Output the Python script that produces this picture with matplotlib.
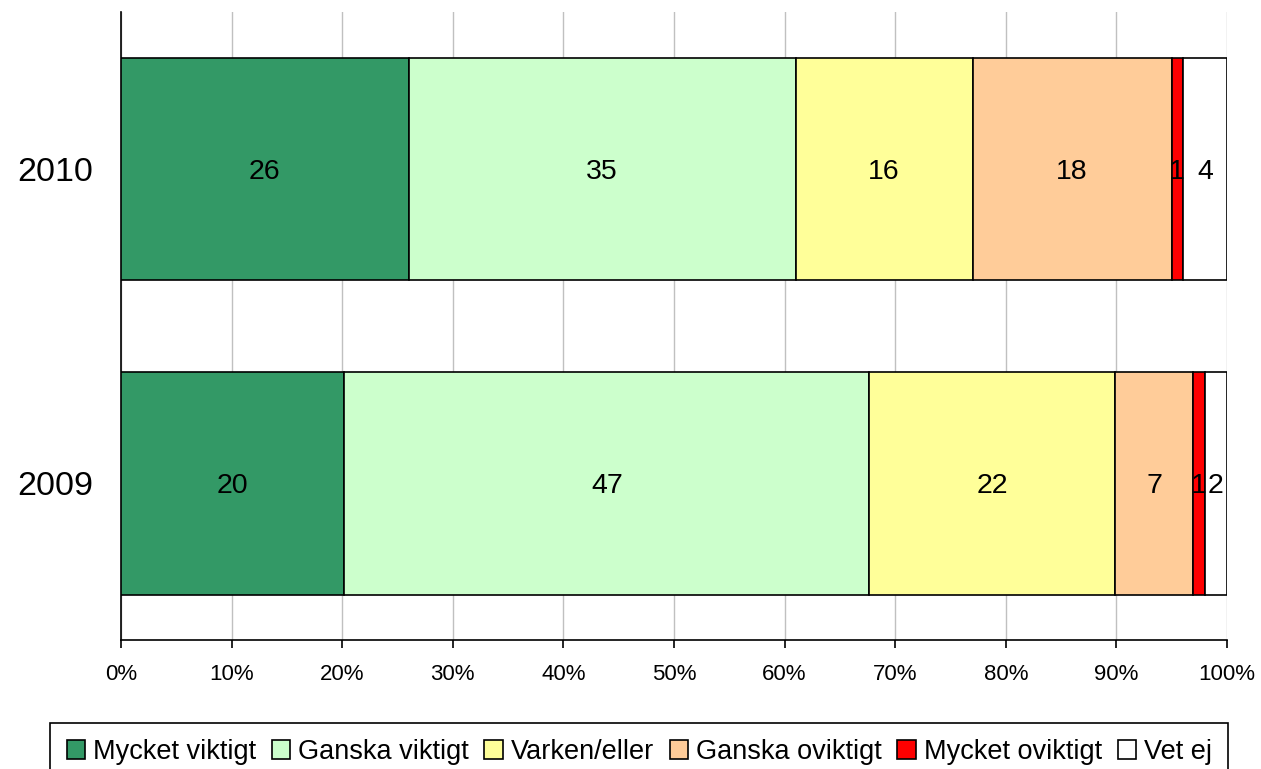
import matplotlib
matplotlib.use("Agg")
import matplotlib.pyplot as plt
import numpy as np
from matplotlib import font_manager

years = ["2009", "2010"]
categories = ["Mycket viktigt", "Ganska viktigt", "Varken/eller",
              "Ganska oviktigt", "Mycket oviktigt", "Vet ej"]
values_2009 = [20, 47, 22, 7, 1, 2]
values_2010 = [26, 35, 16, 18, 1, 4]
colors = ["#339966", "#CCFFCC", "#FFFF99", "#FFCC99", "#FF0000", "#FFFFFF"]
xtick_labels = ["0%", "10%", "20%", "30%", "40%", "50%",
                "60%", "70%", "80%", "90%", "100%"]

names = {f.name for f in font_manager.fontManager.ttflist}
base_font = "Liberation Sans" if "Liberation Sans" in names else "DejaVu Sans"
plt.rcParams["font.family"] = [base_font, "DejaVu Sans"]

fig = plt.figure(figsize=(12.61, 7.69), dpi=100)
ax = fig.add_axes([0.0960, 0.1677, 0.8770, 0.8167])

data = np.array([values_2009, values_2010], dtype=float)
pct = data / data.sum(axis=1, keepdims=True) * 100
ypos = np.arange(len(years))
left = np.zeros(len(years))
for j, cat in enumerate(categories):
    ax.barh(ypos, pct[:, j], left=left, height=0.71, color=colors[j],
            edgecolor="black", linewidth=1.2, label=cat, zorder=3)
    for i in range(len(years)):
        ax.text(left[i] + pct[i, j] / 2, ypos[i], str(int(data[i, j])),
                ha="center", va="center_baseline", fontsize=20.5, zorder=4)
    left += pct[:, j]

ax.set_xlim(0, 100)
ax.set_ylim(-0.5, 1.5)
ax.set_xticks(np.arange(0, 101, 10))
ax.set_xticklabels(xtick_labels, fontsize=16)
ax.set_yticks(ypos)
ax.set_yticklabels(years, fontsize=24.5)
ax.tick_params(axis="y", length=0, pad=20)
ax.tick_params(axis="x", direction="out", length=6, width=1.2, pad=11)
ax.xaxis.grid(True, color="#c0c0c0", linewidth=1.0, zorder=0)
ax.set_axisbelow(True)
for s in ["top", "right"]:
    ax.spines[s].set_visible(False)
for s in ["left", "bottom"]:
    ax.spines[s].set_linewidth(1.2)

leg = fig.legend(loc="upper center", bbox_to_anchor=(0.507, 0.0598), ncol=6,
                 frameon=True, fancybox=False, edgecolor="black", framealpha=1,
                 handlelength=0.68, handleheight=0.68, handletextpad=0.3,
                 columnspacing=0.57, borderpad=0.6, borderaxespad=0,
                 prop={"size": 19.5})
leg.get_frame().set_linewidth(1.2)

fig.savefig("out.png", dpi=100)
